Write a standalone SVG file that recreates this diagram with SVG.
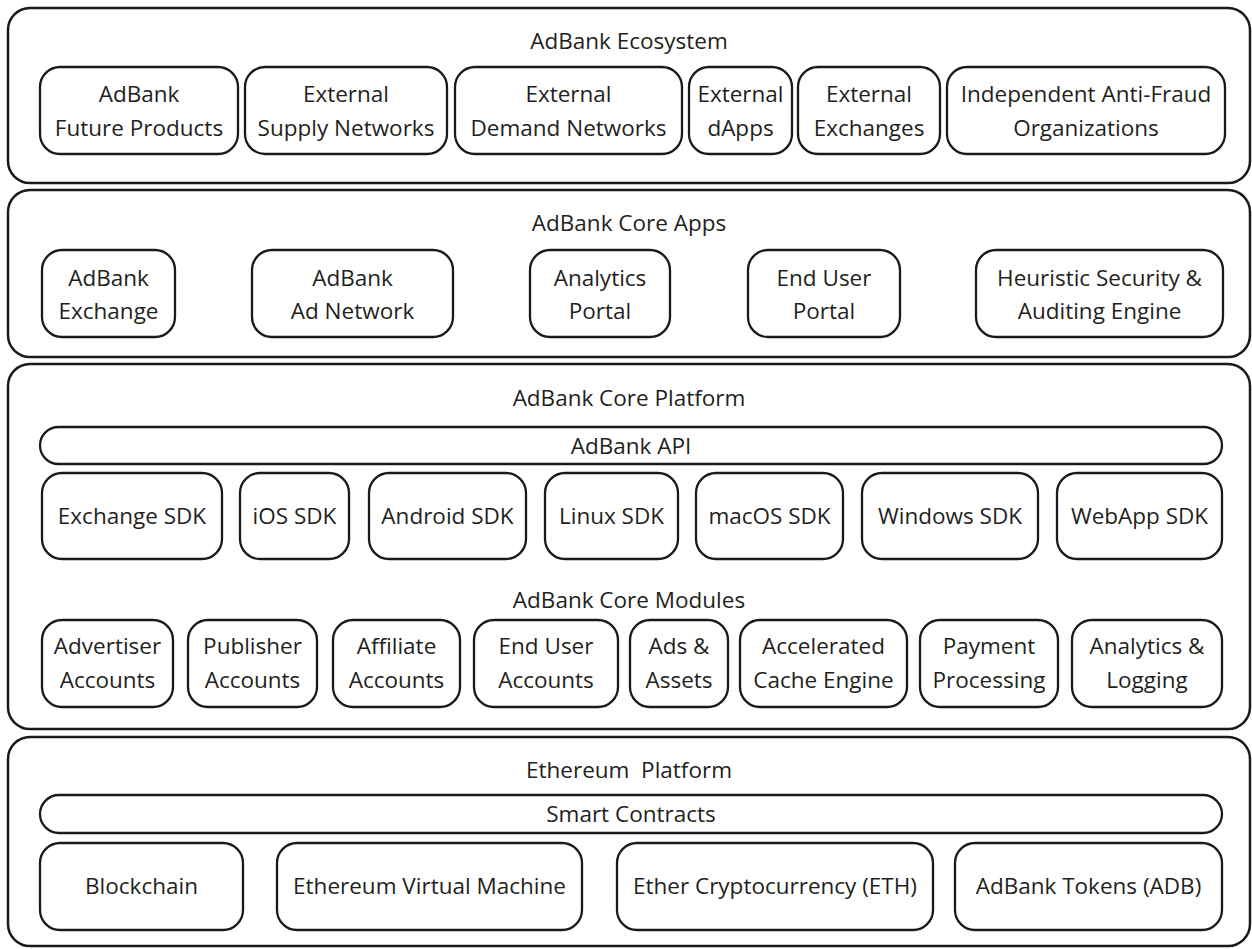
<svg xmlns="http://www.w3.org/2000/svg" width="1252" height="949" viewBox="0 0 1252 949">
<style>
.sec{fill:#fff;stroke:#1a1a1a;stroke-width:2.5}
.box{fill:#fff;stroke:#1a1a1a;stroke-width:2.3}
text{font-family:"Open Sans","Noto Sans","Liberation Sans",sans-serif;font-size:22.5px;fill:#231f20;text-anchor:middle}
.pre{white-space:pre}
</style>
<rect width="1252" height="949" fill="#fff"/>

<g id="ecosystem">
<rect class="sec" x="8" y="8" width="1242" height="175" rx="22"/>
<text x="629" y="49">AdBank Ecosystem</text>
</g>
<g id="eco-future"><rect class="box" x="40" y="67" width="198" height="87" rx="20"/><text x="139" y="102">AdBank</text><text x="139" y="136">Future Products</text></g>
<g id="eco-supply"><rect class="box" x="245" y="67" width="202" height="87" rx="20"/><text x="346" y="102">External</text><text x="346" y="136">Supply Networks</text></g>
<g id="eco-demand"><rect class="box" x="455" y="67" width="227" height="87" rx="20"/><text x="568.5" y="102">External</text><text x="568.5" y="136">Demand Networks</text></g>
<g id="eco-dapps"><rect class="box" x="689" y="67" width="103" height="87" rx="20"/><text x="740.5" y="102">External</text><text x="740.5" y="136">dApps</text></g>
<g id="eco-exchanges"><rect class="box" x="798" y="67" width="142" height="87" rx="20"/><text x="869" y="102">External</text><text x="869" y="136">Exchanges</text></g>
<g id="eco-antifraud"><rect class="box" x="947" y="67" width="278" height="87" rx="20"/><text x="1086" y="102">Independent Anti-Fraud</text><text x="1086" y="136">Organizations</text></g>

<g id="core-apps">
<rect class="sec" x="8" y="190" width="1242" height="167" rx="22"/>
<text x="629" y="231">AdBank Core Apps</text>
</g>
<g id="app-exchange"><rect class="box" x="42" y="250" width="133" height="87" rx="20"/><text x="108.5" y="286">AdBank</text><text x="108.5" y="319">Exchange</text></g>
<g id="app-adnetwork"><rect class="box" x="252" y="250" width="201" height="87" rx="20"/><text x="352.5" y="286">AdBank</text><text x="352.5" y="319">Ad Network</text></g>
<g id="app-analytics"><rect class="box" x="530" y="250" width="140" height="87" rx="20"/><text x="600" y="286">Analytics</text><text x="600" y="319">Portal</text></g>
<g id="app-enduser"><rect class="box" x="748" y="250" width="152" height="87" rx="20"/><text x="824" y="286">End User</text><text x="824" y="319">Portal</text></g>
<g id="app-heuristic"><rect class="box" x="976" y="250" width="247" height="87" rx="20"/><text x="1099.5" y="286">Heuristic Security &amp;</text><text x="1099.5" y="319">Auditing Engine</text></g>

<g id="core-platform">
<rect class="sec" x="8" y="364" width="1242" height="365" rx="22"/>
<text x="629" y="406">AdBank Core Platform</text>
<text x="629" y="608">AdBank Core Modules</text>
</g>
<g id="api"><rect class="box" x="40" y="427" width="1182" height="37" rx="18.5"/><text x="631" y="454">AdBank API</text></g>
<g id="sdk-exchange"><rect class="box" x="42" y="473" width="180" height="86" rx="20"/><text x="132" y="524">Exchange SDK</text></g>
<g id="sdk-ios"><rect class="box" x="240" y="473" width="109" height="86" rx="20"/><text x="294.5" y="524">iOS SDK</text></g>
<g id="sdk-android"><rect class="box" x="369" y="473" width="157" height="86" rx="20"/><text x="447.5" y="524">Android SDK</text></g>
<g id="sdk-linux"><rect class="box" x="545" y="473" width="133" height="86" rx="20"/><text x="611.5" y="524">Linux SDK</text></g>
<g id="sdk-macos"><rect class="box" x="696" y="473" width="147" height="86" rx="20"/><text x="769.5" y="524">macOS SDK</text></g>
<g id="sdk-windows"><rect class="box" x="862" y="473" width="176" height="86" rx="20"/><text x="950" y="524">Windows SDK</text></g>
<g id="sdk-webapp"><rect class="box" x="1057" y="473" width="165" height="86" rx="20"/><text x="1139.5" y="524">WebApp SDK</text></g>

<g id="mod-advertiser"><rect class="box" x="42" y="620" width="131" height="87" rx="20"/><text x="107.5" y="654">Advertiser</text><text x="107.5" y="688">Accounts</text></g>
<g id="mod-publisher"><rect class="box" x="188" y="620" width="129" height="87" rx="20"/><text x="252.5" y="654">Publisher</text><text x="252.5" y="688">Accounts</text></g>
<g id="mod-affiliate"><rect class="box" x="333" y="620" width="127" height="87" rx="20"/><text x="396.5" y="654">Affiliate</text><text x="396.5" y="688">Accounts</text></g>
<g id="mod-enduser"><rect class="box" x="474" y="620" width="144" height="87" rx="20"/><text x="546" y="654">End User</text><text x="546" y="688">Accounts</text></g>
<g id="mod-ads"><rect class="box" x="630" y="620" width="98" height="87" rx="20"/><text x="679" y="654">Ads &amp;</text><text x="679" y="688">Assets</text></g>
<g id="mod-cache"><rect class="box" x="740" y="620" width="167" height="87" rx="20"/><text x="823.5" y="654">Accelerated</text><text x="823.5" y="688">Cache Engine</text></g>
<g id="mod-payment"><rect class="box" x="920" y="620" width="138" height="87" rx="20"/><text x="989" y="654">Payment</text><text x="989" y="688">Processing</text></g>
<g id="mod-analytics"><rect class="box" x="1072" y="620" width="150" height="87" rx="20"/><text x="1147" y="654">Analytics &amp;</text><text x="1147" y="688">Logging</text></g>

<g id="ethereum">
<rect class="sec" x="8" y="737" width="1242" height="209" rx="22"/>
<text class="pre" x="629" y="778">Ethereum  Platform</text>
</g>
<g id="smart-contracts"><rect class="box" x="40" y="795" width="1182" height="38" rx="19"/><text x="631" y="822">Smart Contracts</text></g>
<g id="eth-blockchain"><rect class="box" x="40" y="843" width="203" height="87" rx="20"/><text x="141.5" y="894">Blockchain</text></g>
<g id="eth-evm"><rect class="box" x="277" y="843" width="305" height="87" rx="20"/><text x="429.5" y="894">Ethereum Virtual Machine</text></g>
<g id="eth-ether"><rect class="box" x="617" y="843" width="316" height="87" rx="20"/><text x="775" y="894">Ether Cryptocurrency (ETH)</text></g>
<g id="eth-tokens"><rect class="box" x="955" y="843" width="267" height="87" rx="20"/><text x="1088.5" y="894">AdBank Tokens (ADB)</text></g>

<g id="connectors"></g>
</svg>
